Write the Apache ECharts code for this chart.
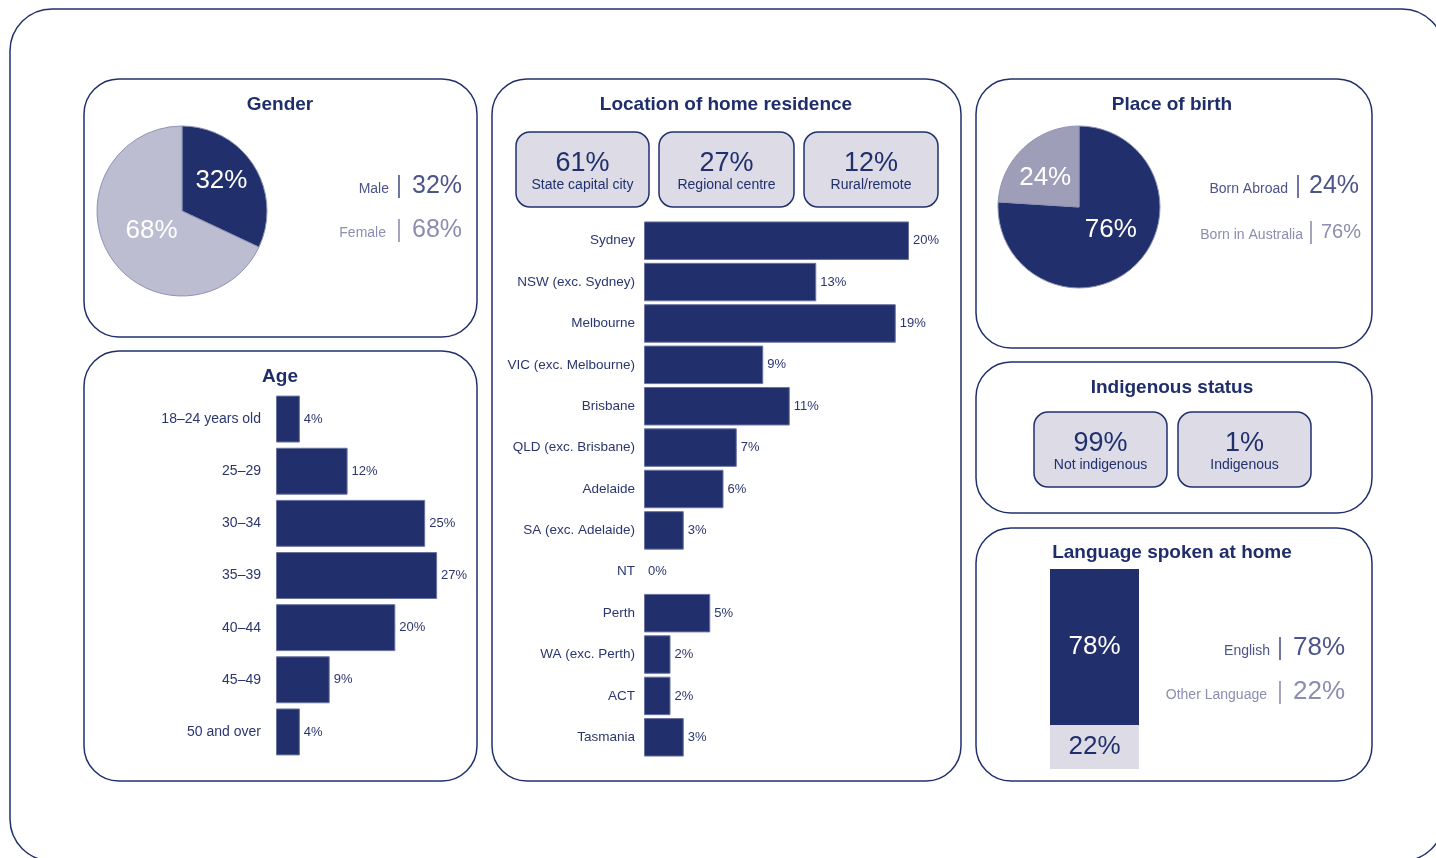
<!DOCTYPE html>
<html>
<head>
<meta charset="utf-8">
<script src="https://cdn.jsdelivr.net/npm/echarts@6/dist/echarts.min.js"></script>
<style>
html,body{margin:0;padding:0;background:#fff;}
#chart{width:1436px;height:858px;}
</style>
</head>
<body>
<div id="chart"></div>
<script>
// ---- Data ----
const genderLabels = ['Male', 'Female'];
const genderValues = [32, 68];

const ageCategories = ['18–24 years old', '25–29', '30–34', '35–39', '40–44', '45–49', '50 and over'];
const ageValues = [4, 12, 25, 27, 20, 9, 4];

const locationSummaryLabels = ['State capital city', 'Regional centre', 'Rural/remote'];
const locationSummaryValues = [61, 27, 12];

const locationCategories = ['Sydney', 'NSW (exc. Sydney)', 'Melbourne', 'VIC (exc. Melbourne)', 'Brisbane',
  'QLD (exc. Brisbane)', 'Adelaide', 'SA (exc. Adelaide)', 'NT', 'Perth', 'WA (exc. Perth)', 'ACT', 'Tasmania'];
const locationValues = [20, 13, 19, 9, 11, 7, 6, 3, 0, 5, 2, 2, 3];

const birthLabels = ['Born in Australia', 'Born Abroad'];
const birthValues = [76, 24];

const indigenousLabels = ['Not indigenous', 'Indigenous'];
const indigenousValues = [99, 1];

const languageLabels = ['English', 'Other Language'];
const languageValues = [78, 22];

// ---- Styles ----
const NAVY = '#21306c';
const TXT = '#2b3670';
const LIGHTBOX = '#dcdbe6';
const FEMALE = '#bcbdd1';
const ABROAD = '#9e9eb9';
const LEG_DARK = '#4c5489';
const LEG_LIGHT = '#8c8db0';
const FONT = "'Liberation Sans', Arial, sans-serif";
const genderLabelOffsets = [[1, -6], [8, -5]];
const birthLabelOffsets = [[2, -9], [-4, 3]];

const chart = echarts.init(document.getElementById('chart'), null, {renderer: 'canvas'});

const graphics = [];
function panel(x, y, w, h, r) {
  graphics.push({type: 'rect', shape: {x, y, width: w, height: h, r},
    style: {fill: 'none', stroke: NAVY, lineWidth: 1.5}, silent: true});
}
function title(text, x, y) {
  graphics.push({type: 'text', x, y, style: {text, fill: '#1f2d6b', font: "bold 19px " + FONT,
    align: 'center', verticalAlign: 'middle'}, silent: true});
}
function statBox(x, y, w, h, value, label) {
  graphics.push({type: 'rect', shape: {x, y, width: w, height: h, r: 14},
    style: {fill: LIGHTBOX, stroke: NAVY, lineWidth: 1.5}, silent: true});
  graphics.push({type: 'text', x: x + w / 2, y: y + 32, style: {text: value + '%', fill: NAVY,
    font: "27px " + FONT, align: 'center', verticalAlign: 'middle'}, silent: true});
  graphics.push({type: 'text', x: x + w / 2, y: y + 53, style: {text: label, fill: NAVY,
    font: "14px " + FONT, align: 'center', verticalAlign: 'middle'}, silent: true});
}
function legendRow(labelRight, sepX, valLeft, cy, label, value, color, valSize) {
  graphics.push({type: 'text', x: labelRight, y: cy + 3, style: {text: label, fill: color,
    font: "14px " + FONT, align: 'right', verticalAlign: 'middle'}, silent: true});
  graphics.push({type: 'line', shape: {x1: sepX, y1: cy - 11, x2: sepX, y2: cy + 12},
    style: {stroke: color, lineWidth: 1.6}, silent: true});
  graphics.push({type: 'text', x: valLeft, y: cy, style: {text: value + '%', fill: color,
    font: valSize + "px " + FONT, align: 'left', verticalAlign: 'middle'}, silent: true});
}

// outer frame
panel(10, 9, 1434, 852, 42);
// panels
panel(84, 79, 393, 258, 35);
panel(84, 351, 393, 430, 35);
panel(492, 79, 469, 702, 35);
panel(976, 79, 396, 269, 35);
panel(976, 362, 396, 151, 35);
panel(976, 528, 396, 253, 35);

title('Gender', 280, 105);
title('Age', 280, 377);
title('Location of home residence', 726, 105);
title('Place of birth', 1172, 105);
title('Indigenous status', 1172, 388);
title('Language spoken at home', 1172, 553);

// location summary boxes
const locBoxX = [516, 659, 804];
const locBoxW = [133, 135, 134];
locationSummaryValues.forEach((v, i) => statBox(locBoxX[i], 132, locBoxW[i], 75, v, locationSummaryLabels[i]));
// indigenous boxes
const indBoxX = [1034, 1178];
indigenousValues.forEach((v, i) => statBox(indBoxX[i], 412, 133, 75, v, indigenousLabels[i]));

// legends
legendRow(389, 399, 412, 186, genderLabels[0], genderValues[0], LEG_DARK, 25);
legendRow(386, 399, 412, 230, genderLabels[1], genderValues[1], LEG_LIGHT, 25);
legendRow(1288, 1298, 1309, 186, birthLabels[1], birthValues[1], LEG_DARK, 25);
legendRow(1303, 1311, 1321, 232, birthLabels[0], birthValues[0], LEG_LIGHT, 20);
legendRow(1270, 1280, 1293, 648, languageLabels[0], languageValues[0], LEG_DARK, 26);
legendRow(1267, 1280, 1293, 692, languageLabels[1], languageValues[1], LEG_LIGHT, 26);

const pct = p => p.value + '%';
const barBorder = {borderColor: '#6a73a0', borderWidth: 1};
const barItems = vals => vals.map(v => v === 0 ? {value: v, itemStyle: {borderWidth: 0}} : v);

const option = {
  animation: false,
  textStyle: {fontFamily: FONT},
  graphic: graphics,
  grid: [
    {left: 276, top: 393, width: 179, height: 365},
    {left: 644, top: 220, width: 291.5, height: 538},
    {left: 1050, top: 569, width: 89, height: 200}
  ],
  xAxis: [
    {type: 'value', gridIndex: 0, min: 0, max: 30, show: false},
    {type: 'value', gridIndex: 1, min: 0, max: 22, show: false},
    {type: 'category', gridIndex: 2, data: ['Language'], show: false}
  ],
  yAxis: [
    {type: 'category', gridIndex: 0, data: ageCategories, inverse: true,
      axisLine: {show: false}, axisTick: {show: false}, splitLine: {show: false},
      axisLabel: {color: TXT, fontSize: 14, margin: 15, fontFamily: FONT}},
    {type: 'category', gridIndex: 1, data: locationCategories, inverse: true,
      axisLine: {show: false}, axisTick: {show: false}, splitLine: {show: false},
      axisLabel: {color: TXT, fontSize: 13.5, margin: 9, fontFamily: FONT}},
    {type: 'value', gridIndex: 2, min: 0, max: 100, show: false}
  ],
  series: [
    {
      type: 'pie', center: [182, 211], radius: [0, 85], startAngle: 90, clockwise: true,
      data: genderLabels.map((n, i) => ({name: n, value: genderValues[i],
        itemStyle: {color: i === 0 ? NAVY : FEMALE}, label: {offset: genderLabelOffsets[i]}})),
      itemStyle: {borderColor: '#8e93b6', borderWidth: 1},
      label: {position: 'inside', formatter: pct, color: '#fff', fontSize: 26, fontFamily: FONT},
      labelLine: {show: false}, emphasis: {disabled: true}, silent: true
    },
    {
      type: 'pie', center: [1079, 207], radius: [0, 81], startAngle: 90, clockwise: true,
      data: birthLabels.map((n, i) => ({name: n, value: birthValues[i],
        itemStyle: {color: i === 0 ? NAVY : ABROAD}, label: {offset: birthLabelOffsets[i]}})),
      itemStyle: {borderColor: '#8e93b6', borderWidth: 1},
      label: {position: 'inside', formatter: pct, color: '#fff', fontSize: 26, fontFamily: FONT},
      labelLine: {show: false}, emphasis: {disabled: true}, silent: true
    },
    {
      type: 'bar', xAxisIndex: 0, yAxisIndex: 0, data: barItems(ageValues), barCategoryGap: '10%',
      itemStyle: Object.assign({color: NAVY}, barBorder),
      label: {show: true, position: 'right', distance: 4, formatter: pct, color: TXT, fontSize: 13, fontFamily: FONT},
      silent: true
    },
    {
      type: 'bar', xAxisIndex: 1, yAxisIndex: 1, data: barItems(locationValues), barCategoryGap: '7%',
      itemStyle: Object.assign({color: NAVY}, barBorder),
      label: {show: true, position: 'right', distance: 4, formatter: pct, color: TXT, fontSize: 13, fontFamily: FONT},
      silent: true
    },
    {
      type: 'bar', xAxisIndex: 2, yAxisIndex: 2, stack: 'lang', barWidth: '100%',
      name: languageLabels[1], data: [languageValues[1]], itemStyle: {color: LIGHTBOX},
      label: {show: true, position: 'inside', formatter: pct, color: NAVY, fontSize: 26, fontFamily: FONT},
      silent: true
    },
    {
      type: 'bar', xAxisIndex: 2, yAxisIndex: 2, stack: 'lang', barWidth: '100%',
      name: languageLabels[0], data: [languageValues[0]], itemStyle: {color: NAVY},
      label: {show: true, position: 'inside', formatter: pct, color: '#fff', fontSize: 26, fontFamily: FONT},
      silent: true
    }
  ]
};
chart.setOption(option);
</script>
</body>
</html>
